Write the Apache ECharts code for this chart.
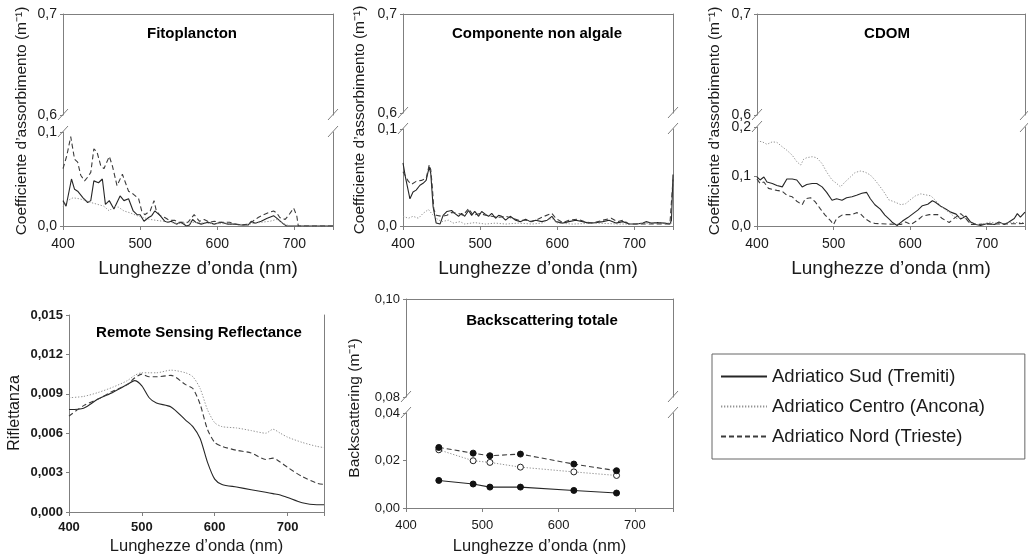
<!DOCTYPE html>
<html><head><meta charset="utf-8">
<script src="https://cdn.jsdelivr.net/npm/echarts@6.0.0/dist/echarts.min.js"></script>
<style>html,body{margin:0;padding:0;background:#fff}#c{width:1028px;height:556px}</style>
</head><body><div id="c"></div>
<script>
// ---------------- DATA ----------------
const seriesNames = ['Adriatico Sud (Tremiti)', 'Adriatico Centro (Ancona)', 'Adriatico Nord (Trieste)'];
const xTickValues = [400, 500, 600, 700];

// Fitoplancton  [nm, m^-1]
const fitoSud = [[400,.027],[404,.021],[411,.050],[415,.039],[419,.037],[426,.030],[432,.025],[436,.027],[440,.048],[446,.046],[451,.050],[455,.023],[460,.027],[466,.018],[474,.032],[479,.027],[485,.029],[491,.016],[496,.012],[500,.012],[505,.005],[511,.009],[515,.011],[519,.016],[526,.011],[532,.005],[536,.004],[540,.005],[547,.002],[553,.004],[560,0],[564,.001],[568,.007],[572,.004],[579,.002],[588,.004],[596,.002],[605,.004],[614,.002],[623,.002],[631,.001],[640,.001],[644,.005],[649,.003],[657,.005],[664,.008],[673,.011],[679,.007],[686,.002],[690,0],[750,0]];
const fitoCentro = [[400,.021],[406,.027],[413,.030],[421,.029],[430,.027],[436,.025],[445,.023],[453,.021],[460,.016],[466,.021],[472,.020],[479,.016],[487,.014],[496,.011],[504,.009],[513,.007],[521,.006],[530,.005],[538,.004],[547,.003],[555,.0025],[564,.004],[570,.004],[583,.003],[596,.0025],[610,.0025],[623,.002],[636,.0015],[646,.0025],[657,.004],[668,.005],[677,.007],[683,.004],[690,.001],[700,0],[750,0]];
const fitoNord = [[400,.061],[405,.075],[410,.095],[415,.071],[419,.068],[423,.054],[428,.048],[432,.052],[436,.057],[440,.082],[444,.079],[449,.064],[453,.061],[460,.074],[464,.064],[470,.043],[477,.055],[481,.046],[485,.037],[491,.034],[498,.029],[502,.016],[506,.012],[513,.016],[518,.027],[521,.016],[526,.011],[532,.009],[538,.006],[545,.006],[549,.004],[562,.004],[570,.012],[577,.005],[583,.007],[590,.004],[596,.005],[603,.004],[616,.004],[623,.002],[631,.001],[640,.002],[646,.005],[653,.009],[660,.012],[666,.014],[673,.016],[677,.014],[681,.009],[688,.007],[693,.012],[699,.019],[703,.011],[705,0],[750,0]];

// Componente non algale
const naSud = [[400,.065],[403,.051],[409,.028],[413,.035],[417,.037],[422,.042],[426,.044],[430,.047],[434,.061],[436,.054],[439,.020],[443,.003],[448,.002],[452,.011],[457,.015],[463,.016],[467,.013],[472,.010],[476,.013],[480,.010],[485,.016],[489,.011],[493,.015],[498,.010],[502,.015],[507,.012],[511,.010],[515,.013],[520,.008],[524,.011],[528,.010],[533,.006],[539,.010],[546,.006],[552,.0045],[559,.007],[565,.0045],[572,.006],[580,.0045],[587,.006],[593,.010],[598,.0045],[607,.003],[615,.0045],[624,.006],[633,.0045],[641,.003],[650,.0035],[659,.0045],[667,.006],[676,.003],[685,.0045],[693,.002],[702,.002],[711,.003],[715,.0045],[722,.003],[730,.0035],[739,.003],[746,.002],[748,.006],[750,.053]];
const naCentro = [[400,.010],[407,.008],[413,.010],[420,.008],[426,.013],[433,.017],[437,.013],[443,.008],[450,.0045],[459,.006],[465,.003],[474,.0045],[480,.002],[493,.0035],[507,.002],[520,.003],[533,.002],[550,.003],[567,.002],[580,.003],[593,.008],[600,.003],[620,.002],[650,.003],[680,.002],[700,.002],[720,.003],[750,.003]];
const naNord = [[400,.056],[407,.046],[411,.043],[417,.046],[424,.047],[430,.049],[434,.063],[436,.058],[438,.040],[440,.017],[443,.011],[450,.010],[457,.011],[463,.014],[472,.013],[478,.011],[485,.018],[491,.011],[500,.013],[507,.011],[515,.010],[524,.009],[533,.010],[541,.008],[550,.006],[559,.006],[567,.0045],[572,.006],[583,.010],[593,.013],[598,.008],[607,.0035],[615,.006],[626,.007],[635,.0045],[646,.003],[659,.006],[670,.008],[678,.0045],[685,.006],[693,.002],[746,.002],[750,.048]];

// CDOM
const cdomSud = [[400,.099],[404,.093],[409,.099],[413,.089],[420,.086],[426,.082],[433,.079],[439,.095],[446,.095],[452,.093],[459,.079],[465,.084],[472,.086],[478,.086],[485,.079],[491,.068],[498,.052],[504,.055],[511,.052],[517,.057],[524,.059],[530,.062],[537,.066],[543,.068],[548,.055],[554,.043],[561,.034],[567,.022],[574,.012],[577,.007],[583,.001],[590,.010],[597,.017],[603,.024],[610,.032],[616,.041],[623,.044],[629,.051],[633,.048],[640,.040],[647,.034],[653,.028],[660,.024],[666,.014],[673,.020],[679,.008],[686,.003],[692,.001],[701,.005],[710,.003],[716,.008],[723,.003],[729,.008],[736,.015],[740,.025],[744,.018],[750,.028]];
const cdomCentro = [[400,.172],[407,.170],[413,.165],[420,.170],[426,.169],[433,.160],[439,.153],[446,.143],[452,.130],[457,.123],[461,.135],[465,.138],[472,.140],[478,.138],[485,.126],[491,.109],[498,.093],[504,.086],[509,.079],[515,.089],[522,.099],[528,.108],[535,.111],[541,.109],[548,.103],[554,.093],[561,.079],[567,.066],[572,.053],[579,.049],[588,.043],[594,.045],[601,.054],[607,.061],[614,.065],[620,.063],[627,.061],[633,.052],[640,.040],[647,.032],[653,.025],[660,.015],[666,.018],[673,.015],[679,.005],[688,.003],[697,.005],[705,.008],[714,.005],[723,.005],[731,.007],[750,.007]];
const cdomNord = [[400,.095],[404,.086],[409,.089],[415,.076],[420,.074],[426,.072],[433,.070],[439,.062],[446,.059],[452,.050],[459,.043],[463,.055],[470,.057],[476,.049],[483,.034],[489,.022],[496,.011],[500,.003],[504,.015],[511,.022],[517,.023],[524,.023],[530,.027],[535,.025],[541,.015],[548,.008],[554,.005],[588,.003],[594,.008],[601,.003],[610,.012],[616,.020],[625,.023],[636,.023],[642,.015],[651,.007],[657,.015],[666,.025],[673,.015],[679,.003],[750,.005]];

// Remote Sensing Reflectance
const rrsX = [400,420,440,460,480,490,500,510,520,540,560,570,580,590,600,610,630,650,670,680,690,700,720,740,750];
const rrsSud = [.0078,.0079,.0086,.0091,.0097,.0100,.0096,.0087,.0083,.0080,.0070,.0065,.0056,.0038,.0025,.0021,.0019,.0017,.0015,.0014,.0013,.0011,.0007,.00055,.00055];
const rrsCentro = [.0087,.0088,.0091,.0095,.0100,.0104,.0106,.0106,.0106,.0108,.0106,.0103,.0094,.0078,.0068,.0065,.0064,.0062,.0060,.0063,.0060,.0057,.0053,.0050,.0049];
const rrsNord = [.0073,.0081,.0086,.0092,.0097,.0102,.0105,.0103,.0103,.0104,.0097,.0094,.0082,.0063,.0053,.0050,.0047,.0045,.0040,.0041,.0038,.0034,.0027,.0022,.0021];

// Backscattering totale
const bbX = [443, 488, 510, 550, 620, 676];
const bbSud = [.0116, .0101, .0088, .0088, .0074, .0063];
const bbCentro = [.0245, .0199, .0192, .0172, .0152, .0137];
const bbNord = [.0255, .0231, .0220, .0227, .0185, .0157];

// ---------------- STYLE / LAYOUT ----------------
const FONT = "'Liberation Sans', Arial, sans-serif";
const NARROW = "'Liberation Sans Narrow', 'Liberation Sans', Arial, sans-serif";
const AX = '#7f7f7f';
const TXT = '#1a1a1a';
const lineStyles = [
  {color: '#262626', type: 'solid', width: 1.1},
  {color: '#949494', type: [1.3, 1.7], width: 1},
  {color: '#3c3c3c', type: [5, 3], width: 1.1}
];
const pair = (xs, ys) => xs.map((x, i) => [x, ys[i]]);

const panels = [
  {title: 'Fitoplancton', titlePos: [192, 34], yName: 'Coefficiente d\u2019assorbimento (m\u207B\u00B9)', yNamePos: [22, 121], yNameSize: 15.5,
   left: 63, width: 270, upper: [14, 115], lower: [132, 226], up: [0.6, 0.7], upInt: 0.1, low: [0, 0.1], lowInt: 0.1, dec: 1,
   lab: {fontFamily: NARROW, fontSize: 14}, xMargin: 11, nameGap: 33, nameSize: 19, data: [fitoSud, fitoCentro, fitoNord]},
  {title: 'Componente non algale', titlePos: [537, 34], yName: 'Coefficiente d\u2019assorbimento (m\u207B\u00B9)', yNamePos: [360, 120], yNameSize: 15.5,
   left: 403, width: 270, upper: [14, 113], lower: [129, 226], up: [0.6, 0.7], upInt: 0.1, low: [0, 0.1], lowInt: 0.1, dec: 1,
   lab: {fontFamily: NARROW, fontSize: 14}, xMargin: 11, nameGap: 33, nameSize: 19, data: [naSud, naCentro, naNord]},
  {title: 'CDOM', titlePos: [887, 34], yName: 'Coefficiente d\u2019assorbimento (m\u207B\u00B9)', yNamePos: [715, 121], yNameSize: 15.5,
   left: 757, width: 268, upper: [14, 115], lower: [127, 226], up: [0.6, 0.7], upInt: 0.1, low: [0, 0.2], lowInt: 0.1, dec: 1,
   lab: {fontFamily: NARROW, fontSize: 14}, xMargin: 11, nameGap: 33, nameSize: 19, data: [cdomSud, cdomCentro, cdomNord]},
  {title: 'Remote Sensing Reflectance', titlePos: [199, 333], yName: 'Riflettanza', yNamePos: [15, 413], yNameSize: 16,
   left: 69, width: 255, upper: null, lower: [315, 514], low: [0, 0.015], lowInt: 0.003, dec: 3, smooth: 0.25,
   lab: {fontFamily: NARROW, fontSize: 13, fontWeight: 'bold'}, xMargin: 9, nameGap: 26, nameSize: 16.5,
   data: [pair(rrsX, rrsSud), pair(rrsX, rrsCentro), pair(rrsX, rrsNord)]},
  {title: 'Backscattering totale', titlePos: [542, 321], yName: 'Backscattering (m\u207B\u00B9)', yNamePos: [355, 408], yNameSize: 15.5,
   left: 406, width: 267, upper: [299, 397], lower: [413, 510], up: [0.08, 0.10], upInt: 0.02, low: [0, 0.04], lowInt: 0.02, dec: 2,
   lab: {fontFamily: FONT, fontSize: 13}, xMargin: 11, nameGap: 30, nameSize: 16.5, markers: true,
   data: [pair(bbX, bbSud), pair(bbX, bbCentro), pair(bbX, bbNord)]}
];

// ---------------- BUILD ----------------
const grids = [], xAxes = [], yAxes = [], series = [], graphics = [];
const fmt = dec => v => v.toFixed(dec).replace('.', ',');
const axLine = {show: true, onZero: false, lineStyle: {color: AX, width: 1}};

function addGrid(p, range, isLower) {
  const g = grids.length;
  grids.push({left: p.left, top: range[0], width: p.width, height: range[1] - range[0], containLabel: false});
  const yr = isLower ? p.low : p.up;
  const yint = isLower ? p.lowInt : p.upInt;
  xAxes.push({
    gridIndex: g, type: 'value', min: 400, max: 750, interval: 100,
    position: isLower ? 'bottom' : 'top',
    axisLine: axLine,
    axisTick: {show: isLower, length: 4, lineStyle: {color: AX}},
    axisLabel: {show: isLower, color: TXT, margin: p.xMargin, ...p.lab,
      formatter: v => (xTickValues.indexOf(v) >= 0 ? String(v) : '')},
    splitLine: {show: false},
    name: isLower ? 'Lunghezze d\u2019onda (nm)' : '', nameLocation: 'middle', nameGap: p.nameGap,
    nameTextStyle: {fontFamily: FONT, fontSize: p.nameSize, color: TXT}
  });
  yAxes.push({
    gridIndex: g, type: 'value', min: yr[0], max: yr[1], interval: yint, position: 'left',
    axisLine: axLine, axisTick: {show: true, length: 3, lineStyle: {color: AX}},
    axisLabel: {color: TXT, margin: 6, ...p.lab, formatter: fmt(p.dec)},
    splitLine: {show: false}
  });
  yAxes.push({
    gridIndex: g, type: 'value', min: yr[0], max: yr[1], interval: yint, position: 'right',
    axisLine: axLine, axisTick: {show: false}, axisLabel: {show: false}, splitLine: {show: false}
  });
  return g;
}

panels.forEach(p => {
  if (p.upper) addGrid(p, p.upper, false);
  const g = addGrid(p, p.lower, true);
  p.data.forEach((d, i) => {
    const ls = lineStyles[i];
    const s = {
      type: 'line', name: seriesNames[i], xAxisIndex: g, yAxisIndex: 2 * g, data: d,
      lineStyle: {color: ls.color, type: ls.type, width: ls.width},
      itemStyle: {color: ls.color}, silent: true, animation: false, clip: true, z: 3,
      smooth: p.smooth || false
    };
    if (p.markers) {
      s.symbol = 'circle'; s.symbolSize = 6; s.showSymbol = true;
      s.itemStyle = i === 1 ? {color: '#ffffff', borderColor: '#222', borderWidth: 1}
                            : {color: '#111111', borderColor: '#111111', borderWidth: 1};
    } else {
      s.symbol = 'none'; s.showSymbol = false;
    }
    series.push(s);
  });
  // title
  graphics.push({type: 'text', x: p.titlePos[0], y: p.titlePos[1], silent: true,
    style: {text: p.title, fontFamily: FONT, fontSize: 15, fontWeight: 'bold', fill: '#000', align: 'center', verticalAlign: 'middle'}});
  // y axis name
  graphics.push({type: 'text', x: p.yNamePos[0], y: p.yNamePos[1], rotation: Math.PI / 2, silent: true,
    style: {text: p.yName, fontFamily: FONT, fontSize: p.yNameSize, fill: TXT, align: 'center', verticalAlign: 'middle'}});
  // axis break marks
  if (p.upper) {
    [p.left, p.left + p.width].forEach(x => {
      [p.upper[1], p.lower[0]].forEach(y => {
        graphics.push({type: 'line', silent: true, z: 10,
          shape: {x1: x - 5, y1: y + 5, x2: x + 5, y2: y - 6},
          style: {stroke: AX, lineWidth: 1}});
      });
    });
  }
});

const chart = echarts.init(document.getElementById('c'), null, {renderer: 'canvas'});
chart.setOption({
  animation: false,
  backgroundColor: '#ffffff',
  textStyle: {fontFamily: FONT},
  grid: grids, xAxis: xAxes, yAxis: yAxes, series: series,
  legend: {
    data: seriesNames, orient: 'vertical', left: 712, top: 354,
    itemWidth: 46, itemHeight: 10, itemGap: 11, padding: [13, 40, 13, 8],
    borderColor: '#666', borderWidth: 1, selectedMode: false,
    itemStyle: {opacity: 0},
    textStyle: {fontFamily: FONT, fontSize: 18.5, color: TXT, lineHeight: 18}
  },
  graphic: graphics
});
</script></body></html>
